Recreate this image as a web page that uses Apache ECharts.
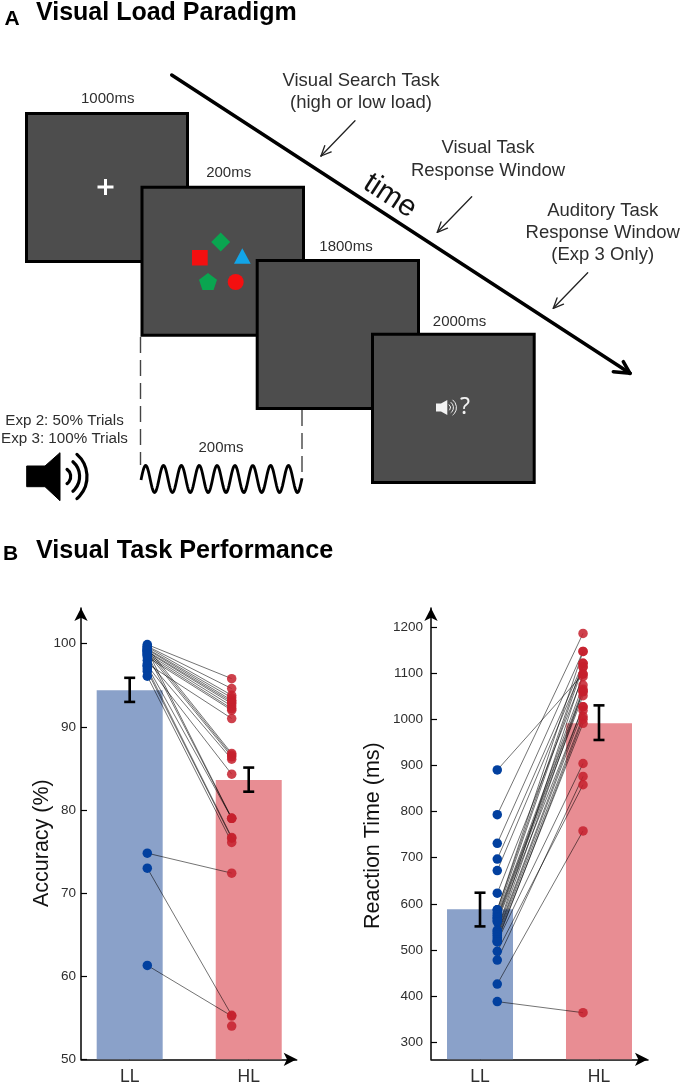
<!DOCTYPE html>
<html><head><meta charset="utf-8">
<style>html,body{margin:0;padding:0;background:#fff}#c{width:682px;height:1083px}</style>
<script src="https://cdn.jsdelivr.net/npm/echarts@6/dist/echarts.min.js"></script>
</head><body><div id="c"></div>
<script>
const conditions = ['LL', 'HL'];
const accuracyMeans = [94.4, 83.6];
const accuracyErrLow = [93.0, 82.2];
const accuracyErrHigh = [95.9, 85.1];
const accuracyLL = [99.9,99.7,99.6,99.4,99.3,99.1,99.0,98.8,98.6,98.4,97.6,99.5,99.2,98.9,98.0,97.4,99.2,98.7,97.3,97.0,96.7,96.1,74.8,73.0,61.3,null];
const accuracyHL = [95.8,94.6,93.8,93.5,93.2,93.0,92.8,92.5,92.2,92.0,91.0,86.8,86.6,86.4,86.1,84.3,79.0,79.0,79.0,76.7,76.6,76.1,72.4,55.3,55.2,54.0];
const rtMeans = [588, 991];
const rtErrLow = [551, 955];
const rtErrHigh = [624, 1030];
const rtLL = [890,793,731,697,672,623,587,587,580,575,571,568,564,561,543,540,536,532,527,522,518,518,497,478,426,388];
const rtHL = [1098,1186,1147,1121,1113,1092,1147,1121,1113,1074,1065,1060,1051,1027,1098,1060,1027,1019,1006,991,1000,904,858,876,758,364];
const accuracyTicks = [50,60,70,80,90,100];
const rtTicks = [300,400,500,600,700,800,900,1000,1100,1200];

const ink = '#2e2e2e';
const sans = '"Liberation Sans", Arial, sans-serif';
const barColors = ['#8aa1c9', '#e88d93'];
const DOT_L = 1.148, DOT_R = 1.857;

function txt(s, x, y, size, extra) {
  return {type:'text', x, y, z:20, style:Object.assign({text:s, fill:ink, font:`${size}px ${sans}`, textAlign:'center', textVerticalAlign:'middle'}, extra||{})};
}
function head(s, x, y, size) {
  return {type:'text', x, y, z:20, style:{text:s, fill:'#000', font:`bold ${size}px ${sans}`, textAlign:'left', textVerticalAlign:'middle'}};
}
function screen(x1,y1,x2,y2,z) {
  return {type:'rect', z, shape:{x:x1+1.5,y:y1+1.5,width:x2-x1-3,height:y2-y1-3}, style:{fill:'#4d4d4d',stroke:'#000',lineWidth:3}};
}
function seg(x1,y1,x2,y2,w,c,extra) {
  return {type:'line', z:15, shape:{x1,y1,x2,y2}, style:Object.assign({stroke:c||'#000',lineWidth:w,lineCap:'round'},extra||{})};
}
function thinArrow(x1,y1,x2,y2) {
  const a = Math.atan2(y2-y1,x2-x1), L = 11, t = 0.42;
  return [seg(x1,y1,x2,y2,1.3,'#222'),
    seg(x2,y2,x2-L*Math.cos(a-t),y2-L*Math.sin(a-t),1.3,'#222'),
    seg(x2,y2,x2-L*Math.cos(a+t),y2-L*Math.sin(a+t),1.3,'#222')];
}
function arc(cx,cy,r,h,w,c) {
  return {type:'arc', z:16, shape:{cx,cy,r,startAngle:-h,endAngle:h,clockwise:true}, style:{fill:null,stroke:c,lineWidth:w,lineCap:'round'}};
}
function wavePoints() {
  const pts = [];
  for (let x = 141; x <= 302; x += 0.5) {
    pts.push([x, 479 - 13.5*Math.sin(2*Math.PI*(x-141.2)/17.85)]);
  }
  return pts;
}

const diagram = [
  head('A', 4.5, 19.5, 21), head('Visual Load Paradigm', 36, 13.5, 25),
  head('B', 3, 554, 21), head('Visual Task Performance', 36, 551.5, 25.2),
  screen(25,112,189,263,1), screen(140.5,185.7,305,336.7,2), screen(255.7,259,420,410,3), screen(371,332.7,535.7,484,4),
  {type:'rect', z:10, shape:{x:97.5,y:185.5,width:16,height:3}, style:{fill:'#fff'}},
  {type:'rect', z:10, shape:{x:104,y:179,width:3,height:16}, style:{fill:'#fff'}},
  {type:'polygon', z:10, shape:{points:[[220.7,232.5],[230.2,242],[220.7,251.5],[211.2,242]]}, style:{fill:'#0aa550'}},
  {type:'rect', z:10, shape:{x:192,y:250,width:15.7,height:15.5}, style:{fill:'#f40f10'}},
  {type:'polygon', z:10, shape:{points:[[242.3,248.3],[250.7,263.7],[234,263.7]]}, style:{fill:'#12a5e8'}},
  {type:'polygon', z:10, shape:{points:[[208,273],[217,279.8],[213.6,290],[202.4,290],[199,279.8]]}, style:{fill:'#0aa550'}},
  {type:'circle', z:10, shape:{cx:235.7,cy:282,r:8}, style:{fill:'#f40f10'}},
  seg(171.7,75,630,373.3,3.5), seg(613.3,371.7,630,373.3,3.5), seg(623.3,361.7,630,373.3,3.5),
  txt('time', 390, 196, 30, {fill:'#111'}),
  ...thinArrow(355,120.7,321,156), ...thinArrow(471.7,196.7,437.3,232.3), ...thinArrow(587.7,272.7,553.3,308.3),
  txt('1000ms',107.7,99,15), txt('200ms',228.7,173,15), txt('1800ms',346,246.7,15), txt('2000ms',459.5,321.7,15),
  txt('Visual Search Task',361,81,18.5), txt('(high or low load)',361,103,18.5),
  txt('Visual Task',488,148.3,18.5), txt('Response Window',488,170.7,18.5),
  txt('Auditory Task',602.7,211,18.5), txt('Response Window',602.7,233,18.5), txt('(Exp 3 Only)',602.7,255,18.5),
  txt('Exp 2: 50% Trials',64.5,420.5,15.2), txt('Exp 3: 100% Trials',64.5,439,15.2), txt('200ms',221,447.7,15),
  seg(140.5,337,140.5,465,1.4,'#444',{lineDash:[16,7],lineCap:'butt'}),
  seg(302,410,302,475,1.4,'#444',{lineDash:[16,7],lineCap:'butt'}),
  {type:'polyline', z:15, shape:{points:wavePoints()}, style:{fill:null,stroke:'#000',lineWidth:2.8}},
  {type:'polygon', z:15, shape:{points:[[26.7,466],[45,466],[60,452.7],[60,500.7],[45,486.7],[26.7,486.7]]}, style:{fill:'#000',stroke:'#000',lineWidth:1,lineJoin:'round'}},
  arc(62,476.5,8.7,0.95,3.2,'#000'), arc(60,476.5,19.6,0.85,3.2,'#000'), arc(57.5,476.5,29.5,0.85,3.2,'#000'),
  {type:'polygon', z:10, shape:{points:[[436,403.5],[441,403.5],[447.3,400],[447.3,415],[441,411.5],[436,411.5]]}, style:{fill:'#f2f2f2'}},
  arc(447,407.5,3.5,0.9,1,'#f2f2f2'), arc(447,407.5,6.5,0.9,1,'#f2f2f2'), arc(447,407.5,9.5,0.9,1,'#f2f2f2'),
  txt('?',465,407,23,{fill:'#f2f2f2',font:`23px "Noto Sans", sans-serif`})
];
diagram[diagram.findIndex(d=>d.style&&d.style.text==='time')].rotation = -33*Math.PI/180;

function makeAxes(gridIndex, ymin, ymax, ticks, name, xmin, xmax, namePad, nameGap, labelMargin) {
  const line = {show:true, symbol:['none','arrow'], symbolSize:[10,13], lineStyle:{color:'#000',width:1.5}};
  return {
    x:{type:'value', gridIndex, min:xmin, max:xmax, splitLine:{show:false}, axisLine:Object.assign({onZero:false},line),
       axisTick:{show:true,inside:true,length:6,customValues:[1,2],lineStyle:{color:'#000',width:1.2}},
       axisLabel:{show:true,customValues:[1,2],formatter:v=>conditions[Math.round(v)-1],color:ink,fontSize:17.5,fontFamily:sans,margin:9}},
    y:{type:'value', gridIndex, min:ymin, max:ymax, splitLine:{show:false}, axisLine:Object.assign({onZero:false},line),
       name, nameLocation:'middle', nameGap, nameRotate:90, nameMoveOverlap:false, nameTextStyle:{color:'#111',fontSize:21.5,fontFamily:sans,padding:namePad},
       axisTick:{show:true,inside:true,length:6,customValues:ticks,lineStyle:{color:'#000',width:1.2}},
       axisLabel:{show:true,customValues:ticks,formatter:v=>String(v),color:ink,fontSize:13.5,fontFamily:sans,margin:labelMargin,padding:[0,0,3,0]}}
  };
}
const leftAxes = makeAxes(0, 50, 104.3, accuracyTicks, 'Accuracy (%)', 0.591, 2.403, [0,19,0,0], 28, 5);
const rightAxes = makeAxes(1, 263, 1241, rtTicks, 'Reaction Time (ms)', 0.588, 2.412, [0,4,0,0], 47, 8);

function panelSeries(i, means, lo, hi, aa, bb, dl, dr) {
  const pts = (xv, arr) => arr.filter(v => v !== null).map(v => [xv, v]);
  const pairs = aa.map((a,k)=>[a,bb[k]]).filter(p => p[0] !== null && p[1] !== null);
  return [
    {type:'bar', xAxisIndex:i, yAxisIndex:i, barWidth:66, z:2, silent:true,
     data:means.map((m,k)=>({value:[k+1,m], itemStyle:{color:barColors[k]}}))},
    {type:'custom', xAxisIndex:i, yAxisIndex:i, z:3, silent:true, clip:false,
     data:pairs,
     renderItem:(p,api)=>{
       const s = api.coord([dl,api.value(0)]), e = api.coord([dr,api.value(1)]);
       return {type:'line', shape:{x1:s[0],y1:s[1],x2:e[0],y2:e[1]}, style:{stroke:'rgba(0,0,0,0.55)',lineWidth:1,fill:null}};
     }},
    {type:'custom', xAxisIndex:i, yAxisIndex:i, z:4, silent:true, clip:false,
     data:means.map((m,k)=>[k+1,lo[k],hi[k]]),
     renderItem:(p,api)=>{
       const a = api.coord([api.value(0),api.value(1)]), b = api.coord([api.value(0),api.value(2)]);
       const st = {stroke:'#000',lineWidth:2.6,fill:null};
       return {type:'group', children:[
         {type:'line',shape:{x1:a[0],y1:a[1],x2:b[0],y2:b[1]},style:st},
         {type:'line',shape:{x1:a[0]-5.5,y1:a[1],x2:a[0]+5.5,y2:a[1]},style:st},
         {type:'line',shape:{x1:b[0]-5.5,y1:b[1],x2:b[0]+5.5,y2:b[1]},style:st}]};
     }},
    {type:'scatter', xAxisIndex:i, yAxisIndex:i, z:5, silent:true, symbolSize:9.5, data:pts(dl,aa), itemStyle:{color:'#02409f',opacity:1}},
    {type:'scatter', xAxisIndex:i, yAxisIndex:i, z:5, silent:true, symbolSize:9.5, data:pts(dr,bb), itemStyle:{color:'#c5202d',opacity:0.85}}
  ];
}

const chart = echarts.init(document.getElementById('c'), null, {renderer:'canvas'});
chart.setOption({
  animation:false, backgroundColor:'#fff',
  grid:[
    {left:81, top:608, width:215.7, height:451.3, containLabel:false, outerBoundsMode:'none'},
    {left:431, top:608, width:217, height:451.3, containLabel:false, outerBoundsMode:'none'}
  ],
  xAxis:[leftAxes.x, rightAxes.x],
  yAxis:[leftAxes.y, rightAxes.y],
  series:[
    ...panelSeries(0, accuracyMeans, accuracyErrLow, accuracyErrHigh, accuracyLL, accuracyHL, DOT_L, DOT_R),
    ...panelSeries(1, rtMeans, rtErrLow, rtErrHigh, rtLL, rtHL, 1.145, 1.866)
  ],
  graphic:{elements:diagram}
});
</script></body></html>
